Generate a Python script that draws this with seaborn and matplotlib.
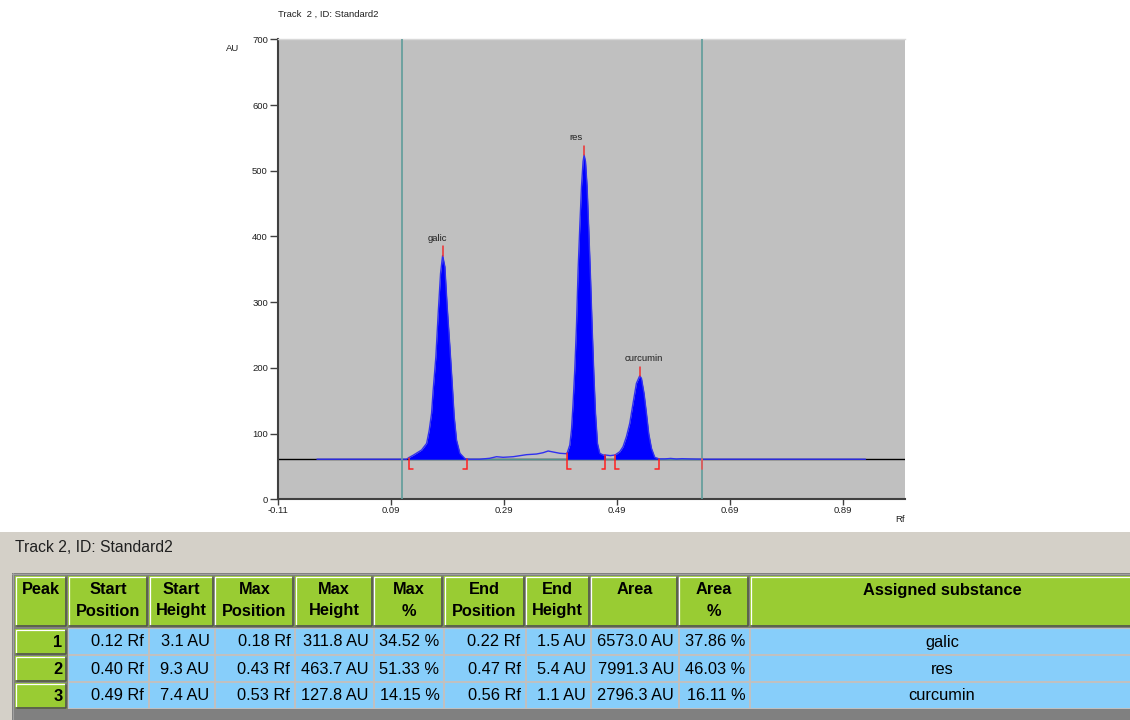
import matplotlib
matplotlib.use("Agg")
import numpy as np
import pandas as pd
import matplotlib.pyplot as plt
from matplotlib.patches import Rectangle
import seaborn as sns

# ---------------- chart data ----------------
x_ticks = [-0.11, 0.09, 0.29, 0.49, 0.69, 0.89]
y_ticks = [0, 100, 200, 300, 400, 500, 600, 700]
x_range = [-0.11, 1.0]
y_range = [0, 700]
baseline_au = 61.0
track_limits = [0.109, 0.641]

trace_rf = [
    -0.0415, 0.1173, 0.1213, 0.1289, 0.1438, 0.1527, 0.1573, 0.1615, 0.1643, 0.1691, 0.1732, 0.1774, 0.1810,
    0.1850, 0.1891, 0.1939, 0.1980, 0.2015, 0.2057, 0.2116, 0.2204, 0.2235,
    0.2293, 0.2466, 0.2643, 0.2765, 0.2882, 0.3059, 0.3296, 0.3473, 0.3590, 0.3679, 0.3767, 0.3886, 0.4004,
    0.4015, 0.4063, 0.4093, 0.4121, 0.4151, 0.4181, 0.4210, 0.4240, 0.4270, 0.4298, 0.4316,
    0.4341, 0.4369, 0.4399, 0.4429, 0.4458, 0.4488, 0.4518, 0.4553, 0.4594, 0.4652, 0.4695,
    0.4780, 0.4865, 0.4948, 0.5006, 0.5066, 0.5125, 0.5183, 0.5243, 0.5302,
    0.5332, 0.5378, 0.5420, 0.5461, 0.5509, 0.5567, 0.5643,
    0.5750, 0.5850, 0.5950, 0.6050, 0.6150, 0.6300, 0.6450, 0.9300]
trace_au = [
    61.0, 61.0, 63.5, 67.0, 75.0, 85.0, 105.0, 131.0, 166.0, 217.0, 283.0, 344.0, 371.0,
    354.0, 293.0, 232.0, 176.0, 126.0, 90.0, 70.0, 62.0, 61.5,
    61.0, 61.0, 62.4, 64.8, 63.9, 64.8, 67.9, 68.9, 70.9, 73.5, 72.0, 70.0, 69.4,
    70.0, 82.6, 105.5, 146.0, 197.0, 263.0, 349.0, 415.0, 476.0, 514.0, 524.0,
    514.0, 476.0, 410.0, 339.0, 263.0, 192.0, 131.0, 85.0, 70.0, 67.4, 67.4,
    66.5, 67.4, 72.4, 80.0, 95.3, 115.7, 146.0, 176.5, 188.0,
    184.0, 161.0, 131.0, 100.0, 77.6, 63.9, 61.5,
    61.5, 62.2, 61.3, 61.8, 61.5, 61.2, 61.0, 61.0]

peak_names = ["galic", "res", "curcumin"]
peak_max_rf = [0.1810, 0.4316, 0.5302]
peak_max_au = [371.0, 524.0, 188.0]
peak_start_rf = [0.1213, 0.4015, 0.4865]
peak_end_rf = [0.2235, 0.4695, 0.5643]
peak_start_au = [63.5, 70.0, 67.4]
peak_end_au = [61.5, 67.4, 61.5]

chart_title = "Track  2 , ID: Standard2"

# ---------------- table data ----------------
table_title = "Track 2, ID: Standard2"
header_line1 = ["Peak", "Start", "Start", "Max", "Max", "Max", "End", "End", "Area", "Area", "Assigned substance"]
header_line2 = ["", "Position", "Height", "Position", "Height", "%", "Position", "Height", "", "%", ""]
peak_ids = ["1", "2", "3"]
start_pos = ["0.12 Rf", "0.40 Rf", "0.49 Rf"]
start_height = ["3.1 AU", "9.3 AU", "7.4 AU"]
max_pos = ["0.18 Rf", "0.43 Rf", "0.53 Rf"]
max_height = ["311.8 AU", "463.7 AU", "127.8 AU"]
max_pct = ["34.52 %", "51.33 %", "14.15 %"]
end_pos = ["0.22 Rf", "0.47 Rf", "0.56 Rf"]
end_height = ["1.5 AU", "5.4 AU", "1.1 AU"]
area = ["6573.0 AU", "7991.3 AU", "2796.3 AU"]
area_pct = ["37.86 %", "46.03 %", "16.11 %"]
substance = ["galic", "res", "curcumin"]

# ---------------- figure ----------------
sns.set_style("white")
plt.rcParams["font.family"] = ["Liberation Sans", "DejaVu Sans"]

W, H = 1130, 720
fig = plt.figure(figsize=(W / 100, H / 100), dpi=100, facecolor="white")

# chart axes (pixel box 278.3..905 x 39.3..499.3)
ax = fig.add_axes([278.3 / W, 1 - 499.3 / H, 626.7 / W, 460 / H])
ax.set_facecolor("#C0C0C0")

trace = pd.DataFrame({"Rf": trace_rf, "AU": trace_au})

# baseline (black, full width)
ax.axhline(baseline_au, color="black", lw=1.0, zorder=1)
# integration baseline segment (teal)
ax.plot([peak_start_rf[0], track_limits[1]], [baseline_au, baseline_au],
        color="#4f8f8c", lw=1.0, zorder=1.5)

# filled peaks
rf_arr = np.array(trace_rf)
au_arr = np.array(trace_au)
for s, e in zip(peak_start_rf, peak_end_rf):
    m = (rf_arr >= s - 1e-9) & (rf_arr <= e + 1e-9)
    ax.fill_between(rf_arr[m], baseline_au, au_arr[m], color="#0000FF", lw=0, zorder=2)

# signal trace
sns.lineplot(data=trace, x="Rf", y="AU", sort=False, estimator=None,
             color="#3030F0", lw=1.0, ax=ax, zorder=3)

# track limits (vertical teal lines)
for t in track_limits:
    ax.axvline(t, color="#5F9C9A", lw=1.2, zorder=4)
ax.plot([track_limits[1], track_limits[1]], [baseline_au, baseline_au - 15],
        color="#E05A5A", lw=1.3, zorder=5)

# peak brackets
foot = 0.0065
low = baseline_au - 15.0
for s, e, sa, ea in zip(peak_start_rf, peak_end_rf, peak_start_au, peak_end_au):
    ax.plot([s, s, s + foot], [sa, low, low], color="#FF2020", lw=1.1, zorder=5,
            solid_joinstyle="miter")
    ax.plot([e, e, e - foot], [ea, low, low], color="#FF2020", lw=1.1, zorder=5,
            solid_joinstyle="miter")

# peak max markers and labels
for name, prf, pau in zip(peak_names, peak_max_rf, peak_max_au):
    ax.plot([prf, prf], [pau, pau + 14], color="#F03030", lw=1.1, zorder=5)
    ax.text(prf - 0.026, pau + 26, name, ha="left", va="center", fontsize=6.8,
            color="#202020", zorder=6)

ax.set_xlim(*x_range)
ax.set_ylim(*y_range)
ax.set_xticks(x_ticks)
ax.set_xticklabels([f"{t:.2f}" for t in x_ticks])
ax.set_yticks(y_ticks)
ax.set_yticklabels([str(t) for t in y_ticks])
ax.set_xlabel("")
ax.set_ylabel("")
ax.tick_params(axis="y", direction="out", length=6, width=1, color="#404040",
               labelsize=6.8, pad=1.5, labelcolor="#202020", left=True)
ax.tick_params(axis="x", direction="out", length=4, width=1, color="#404040",
               labelsize=6.8, pad=1, labelcolor="#202020", bottom=True)
for sp in ["left", "bottom"]:
    ax.spines[sp].set_color("#404040")
    ax.spines[sp].set_linewidth(1.5)
ax.spines["top"].set_color("#D8D8D8")
ax.spines["top"].set_linewidth(1.0)
ax.spines["right"].set_visible(False)

ax.text(-0.0723, 0.979, "AU", transform=ax.transAxes, ha="center", va="center",
        fontsize=6.8, color="#202020")
ax.text(0.992, -0.043, "Rf", transform=ax.transAxes, ha="center", va="center",
        fontsize=6.8, color="#202020")
ax.text(0.0, 1.055, chart_title, transform=ax.transAxes, ha="left", va="center",
        fontsize=6.8, color="#202020")

# ---------------- table panel ----------------
top_px = 532
tax = fig.add_axes([0, 0, 1, (H - top_px) / H])
tax.set_xlim(0, W)
tax.set_ylim(H, top_px)
tax.axis("off")
tax.add_patch(Rectangle((0, top_px), W, H - top_px, facecolor="#D4D0C8", lw=0, zorder=0))
tax.text(15, 547, table_title, ha="left", va="center", fontsize=11.3,
         color="#202020", zorder=5)

# table frame
tax.add_patch(Rectangle((12, 573), W - 12, H - 573, facecolor="#808080", lw=0, zorder=1))
tax.plot([12, W], [573.5, 573.5], color="#A0A0A0", lw=0.8, zorder=2)
tax.plot([12.5, 12.5], [573, H], color="#A0A0A0", lw=0.8, zorder=2)

col_edges = [15, 68.4, 149, 214.5, 295.3, 373.8, 444.4, 525.5, 590.9, 678.9, 750.2, 1140]
substance_center = 942
head_top, head_bot = 576, 627
row_tops = [629, 656, 683]
row_h = 26

GREEN = "#99CC33"
BLUE = "#87CEFA"


def bevel(x0, y0, x1, y1, face):
    tax.add_patch(Rectangle((x0, y0), x1 - x0, y1 - y0, facecolor=face, lw=0, zorder=2))
    tax.plot([x0 + 0.5, x0 + 0.5, x1 - 1], [y1 - 1, y0 + 0.5, y0 + 0.5],
             color="#FFFFFF", lw=0.9, zorder=3)
    tax.plot([x0 + 0.5, x1 - 1, x1 - 1], [y1 - 1, y1 - 1, y0 + 0.5],
             color="#505050", lw=1.2, zorder=3)


# headers
for i in range(len(col_edges) - 1):
    x0, x1 = col_edges[i], col_edges[i + 1] - 1
    bevel(x0, head_top, x1, head_bot, GREEN)
    cx = (x0 + x1) / 2 if i < len(col_edges) - 2 else substance_center
    tax.text(cx, 590, header_line1[i], ha="center", va="center", fontsize=11.8,
             fontweight="bold", color="black", zorder=5)
    if header_line2[i]:
        tax.text(cx, 611, header_line2[i], ha="center", va="center", fontsize=11.8,
                 fontweight="bold", color="black", zorder=5)

columns = [start_pos, start_height, max_pos, max_height, max_pct, end_pos,
           end_height, area, area_pct, substance]

for r, y0 in enumerate(row_tops):
    # peak id cell
    bevel(col_edges[0], y0, col_edges[1] - 1, y0 + row_h, GREEN)
    tax.text(col_edges[1] - 6, y0 + row_h / 2 + 0.5, peak_ids[r], ha="right", va="center",
             fontsize=11.8, fontweight="bold", color="black", zorder=5)
    # blue data cells
    tax.add_patch(Rectangle((col_edges[1], y0 - 1), W - col_edges[1], row_h + 1,
                            facecolor="#C0C0C0", lw=0, zorder=2))
    for c, vals in enumerate(columns):
        x0, x1 = col_edges[c + 1] + 1, col_edges[c + 2] - 1
        tax.add_patch(Rectangle((x0, y0), x1 - x0, row_h - 1, facecolor=BLUE, lw=0, zorder=3))
        if c == len(columns) - 1:
            tax.text(substance_center, y0 + row_h / 2, vals[r], ha="center",
                     va="center", fontsize=11.8, color="black", zorder=5)
        else:
            tax.text(x1 - 4, y0 + row_h / 2, vals[r], ha="right", va="center",
                     fontsize=11.8, color="black", zorder=5)

fig.savefig("out.png", dpi=100, facecolor="white")
